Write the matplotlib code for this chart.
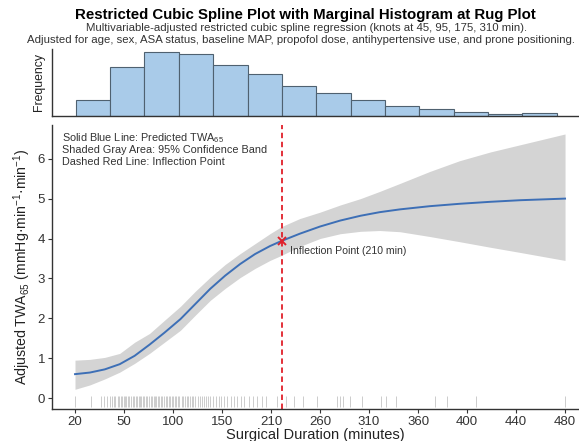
"""Restricted cubic spline plot with marginal histogram and rug."""

import matplotlib

matplotlib.use("Agg")
import matplotlib.pyplot as plt
import numpy as np

plt.rcParams["font.family"] = ["Liberation Sans", "DejaVu Sans"]
plt.rcParams["mathtext.fontset"] = "custom"
plt.rcParams["mathtext.rm"] = "Liberation Sans"
plt.rcParams["mathtext.it"] = "Liberation Sans:italic"

# spline fit (minutes -> adjusted TWA65)
duration = [20, 34, 48, 62, 76, 90, 104, 119, 133, 147, 161, 175, 189, 203, 214,
            231, 250, 269, 288, 306, 325, 353, 381, 410, 438, 480]
twa_fit = [0.60, 0.64, 0.72, 0.85, 1.06, 1.34, 1.64, 1.98, 2.36, 2.74, 3.07, 3.36,
           3.61, 3.81, 3.94, 4.12, 4.30, 4.45, 4.57, 4.66, 4.73, 4.81, 4.87, 4.92,
           4.96, 5.00]
ci_upper = [0.95, 0.97, 1.02, 1.12, 1.40, 1.62, 1.95, 2.30, 2.68, 3.03, 3.35, 3.62,
            3.87, 4.12, 4.30, 4.50, 4.66, 4.84, 5.00, 5.18, 5.38, 5.68, 5.95, 6.17,
            6.35, 6.62]
ci_lower = [0.22, 0.33, 0.48, 0.65, 0.87, 1.12, 1.40, 1.70, 2.08, 2.45, 2.75, 3.02,
            3.25, 3.45, 3.58, 3.80, 4.00, 4.12, 4.18, 4.20, 4.17, 4.05, 3.92, 3.78,
            3.65, 3.45]

inflection_x = 214
inflection_y = 3.94
inflection_label = "Inflection Point (210 min)"

# marginal histogram
bin_edges = [21, 53, 85, 118, 150, 182, 214, 246, 279, 311, 343, 376, 408, 440, 472]
bin_counts = [16, 49, 64, 62, 51, 42, 30, 23, 16, 10, 7, 4, 2, 3]

# rug of observed durations
rug = [20, 35, 44, 47, 50, 53, 55, 57, 58, 60, 61, 63, 64, 66, 67, 68, 70, 71, 73,
       74, 75, 77, 78, 80, 81, 82, 84, 85, 87, 88, 89, 91, 92, 94, 95, 96, 98, 99,
       101, 102, 104, 105, 106, 108, 109, 111, 112, 114, 115, 117, 118, 120, 121,
       123, 125, 126, 128, 130, 131, 133, 135, 137, 139, 141, 143, 145, 147, 150,
       152, 155, 157, 160, 163, 166, 169, 172, 176, 179, 183, 187, 191, 196, 199,
       210, 218, 226, 234, 247, 266, 269, 272, 278, 289, 307, 312, 321, 358, 369,
       396, 480]

x_tick_labels = ["20", "50", "100", "150", "210", "260", "310", "360", "400", "440", "480"]
y_ticks = [0, 1, 2, 3, 4, 5, 6]

legend_lines = [
    r"Solid Blue Line: Predicted TWA$_{\mathrm{65}}$",
    "Shaded Gray Area: 95% Confidence Band",
    "Dashed Red Line: Inflection Point",
]

XLIM = (-1.6, 493)
BLUE = "#3d6fb6"
RED = "#e0202a"

fig = plt.figure(figsize=(5.79, 4.41), dpi=100)
ax_h = fig.add_axes([0.0898, 0.737, 0.910, 0.152])
ax = fig.add_axes([0.0898, 0.072, 0.910, 0.645])

# histogram panel
edges = np.array(bin_edges)
ax_h.bar(edges[:-1], bin_counts, width=np.diff(edges), align="edge",
         color="#a9cbe9", edgecolor="#4f6170", linewidth=0.8)
ax_h.set_xlim(*XLIM)
ax_h.set_ylim(0, 67)
ax_h.set_xticks([])
ax_h.set_yticks([])
for s in ("top", "right"):
    ax_h.spines[s].set_visible(False)
for s in ("left", "bottom"):
    ax_h.spines[s].set_color("#333333")
    ax_h.spines[s].set_linewidth(1.0)
ax_h.set_ylabel("Frequency", fontsize=8.8, color="#222222", labelpad=5)

# main spline panel
ax.fill_between(duration, ci_lower, ci_upper, color="#d4d4d4", linewidth=0)
ax.plot(duration, twa_fit, color=BLUE, linewidth=1.4)
ax.vlines(rug, -0.22, 0.06, color="#c4c4c4", linewidth=0.6)
ax.axvline(inflection_x, color=RED, linestyle=(0, (3, 2)), linewidth=1.3)
ax.plot([inflection_x], [inflection_y], marker="x", color=RED, markersize=6,
        markeredgewidth=1.4)
ax.text(inflection_x + 8, inflection_y - 0.26, inflection_label, fontsize=7.6,
        color="#333333", va="center")

for i, line in enumerate(legend_lines):
    ax.text(0.019, 0.952 - i * 0.041, line, transform=ax.transAxes, fontsize=7.8,
            color="#333333", va="center")

ax.set_xlim(*XLIM)
ax.set_ylim(-0.28, 6.85)
ax.set_xticks(np.linspace(20, 480, len(x_tick_labels)))
ax.set_xticklabels(x_tick_labels)
ax.set_yticks(y_ticks)
ax.tick_params(labelsize=9.5, colors="#333333", length=3, width=0.8, pad=2)
for s in ("top", "right"):
    ax.spines[s].set_visible(False)
for s in ("left", "bottom"):
    ax.spines[s].set_color("#333333")
    ax.spines[s].set_linewidth(1.0)

ax.set_xlabel("Surgical Duration (minutes)", fontsize=10.5, color="#222222", labelpad=0)
ax.set_ylabel(r"Adjusted TWA$_{\mathrm{65}}$ (mmHg·min$^{\mathrm{-1}}$·min$^{\mathrm{-1}}$)",
              fontsize=10.2, color="#222222", labelpad=3)

fig.text(0.527, 0.966, "Restricted Cubic Spline Plot with Marginal Histogram at Rug Plot",
         ha="center", va="center", fontsize=10.8, fontweight="bold")
fig.text(0.530, 0.936, "Multivariable-adjusted restricted cubic spline regression "
         "(knots at 45, 95, 175, 310 min).", ha="center", va="center",
         fontsize=8.2, color="#333333")
fig.text(0.520, 0.910, "Adjusted for age, sex, ASA status, baseline MAP, propofol dose, "
         "antihypertensive use, and prone positioning.", ha="center", va="center",
         fontsize=8.2, color="#333333")

fig.savefig("out.png", dpi=100)
